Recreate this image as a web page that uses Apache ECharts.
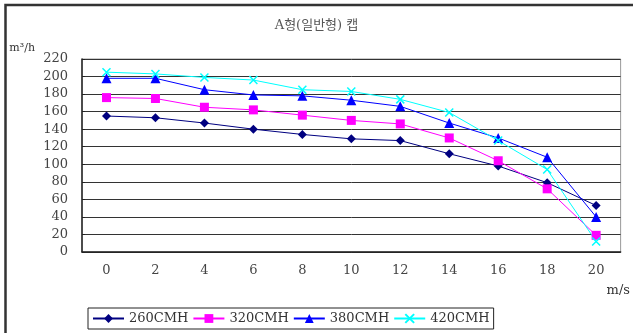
<!DOCTYPE html>
<html>
<head>
<meta charset="utf-8">
<script src="https://cdn.jsdelivr.net/npm/echarts@6/dist/echarts.min.js"></script>
<style>
  html, body { margin: 0; padding: 0; background: #fff; }
  #chart { width: 633px; height: 333px; }
</style>
</head>
<body>
<div id="chart"></div>
<script>
// Wind speed (m/s) categories
const speeds = ['0', '2', '4', '6', '8', '10', '12', '14', '16', '18', '20'];

// Airflow (m³/h) per model
const cmh260 = [155, 153, 147, 140, 134, 129, 127, 112, 98, 79, 53];
const cmh320 = [176, 175, 165, 162, 156, 150, 146, 130, 104, 72, 19];
const cmh380 = [198, 198, 185, 179, 178, 173, 166, 147, 130, 108, 40];
const cmh420 = [205, 203, 199, 196, 185, 183, 174, 159, 127, 94, 12];

const seriesNames = ['260CMH', '320CMH', '380CMH', '420CMH'];

const numFont = 'DejaVu Serif, Noto Sans CJK KR, serif';
const crossPath = 'path://M0,0L10,10M10,0L0,10';

function lineSeries(name, data, color, symbol, size, extra) {
  return Object.assign({
    name: name,
    type: 'line',
    data: data,
    symbol: symbol,
    symbolSize: size,
    showAllSymbol: true,
    lineStyle: { color: color, width: 1 },
    itemStyle: { color: color },
    emphasis: { disabled: true },
    animation: false
  }, extra || {});
}

const chart = echarts.init(document.getElementById('chart'), null, { renderer: 'canvas' });

chart.setOption({
  backgroundColor: '#fff',
  animation: false,
  title: {
    text: 'A형(일반형) 캡',
    left: 'center',
    top: 14,
    textStyle: { fontFamily: numFont, fontSize: 13, fontWeight: 'normal', color: '#555' }
  },
  graphic: [{
    type: 'rect',
    shape: { x: 5.5, y: 5, width: 700, height: 400 },
    style: { fill: 'none', stroke: '#333', lineWidth: 2.5 },
    silent: true
  }],
  legend: {
    data: seriesNames,
    left: 88,
    top: 308,
    padding: [4, 4],
    itemGap: 4,
    itemWidth: 31,
    itemHeight: 11,
    borderColor: '#222',
    borderWidth: 1,
    textStyle: { fontFamily: numFont, fontSize: 13, color: '#333' }
  },
  grid: {
    left: 82, top: 59, right: 11, bottom: 81,
    show: true, borderColor: '#999', borderWidth: 1
  },
  xAxis: {
    type: 'category',
    data: speeds,
    boundaryGap: true,
    name: 'm/s',
    nameLocation: 'end',
    nameGap: -14,
    nameTextStyle: { fontFamily: numFont, fontSize: 13, color: '#333', verticalAlign: 'top', padding: [32, 0, 0, 0] },
    axisLine: { lineStyle: { color: '#222', width: 1.5 } },
    axisTick: { inside: true, length: 4, lineStyle: { color: '#222' } },
    axisLabel: { fontFamily: numFont, fontSize: 13, color: '#444', margin: 12 },
    splitLine: { show: false }
  },
  yAxis: {
    type: 'value',
    min: 0,
    max: 220,
    interval: 20,
    name: 'm³/h',
    nameLocation: 'end',
    nameGap: 5,
    nameTextStyle: { fontFamily: numFont, fontSize: 11, color: '#333', align: 'right', padding: [0, 47, 0, 0] },
    axisLine: { show: true, lineStyle: { color: '#222', width: 1.5 } },
    axisTick: { show: true, inside: true, length: 3, lineStyle: { color: '#222' } },
    axisLabel: { fontFamily: numFont, fontSize: 13, color: '#444', margin: 14 },
    splitLine: { show: true, lineStyle: { color: '#333', width: 1 } }
  },
  series: [
    lineSeries(seriesNames[0], cmh260, '#000080', 'diamond', 9),
    lineSeries(seriesNames[1], cmh320, '#FF00FF', 'rect', 9),
    lineSeries(seriesNames[2], cmh380, '#0000FF', 'triangle', 10),
    lineSeries(seriesNames[3], cmh420, '#00FFFF', crossPath, 8, {
      itemStyle: { color: '#00FFFF', borderColor: '#00FFFF', borderWidth: 1.5 }
    })
  ]
});
</script>
</body>
</html>
